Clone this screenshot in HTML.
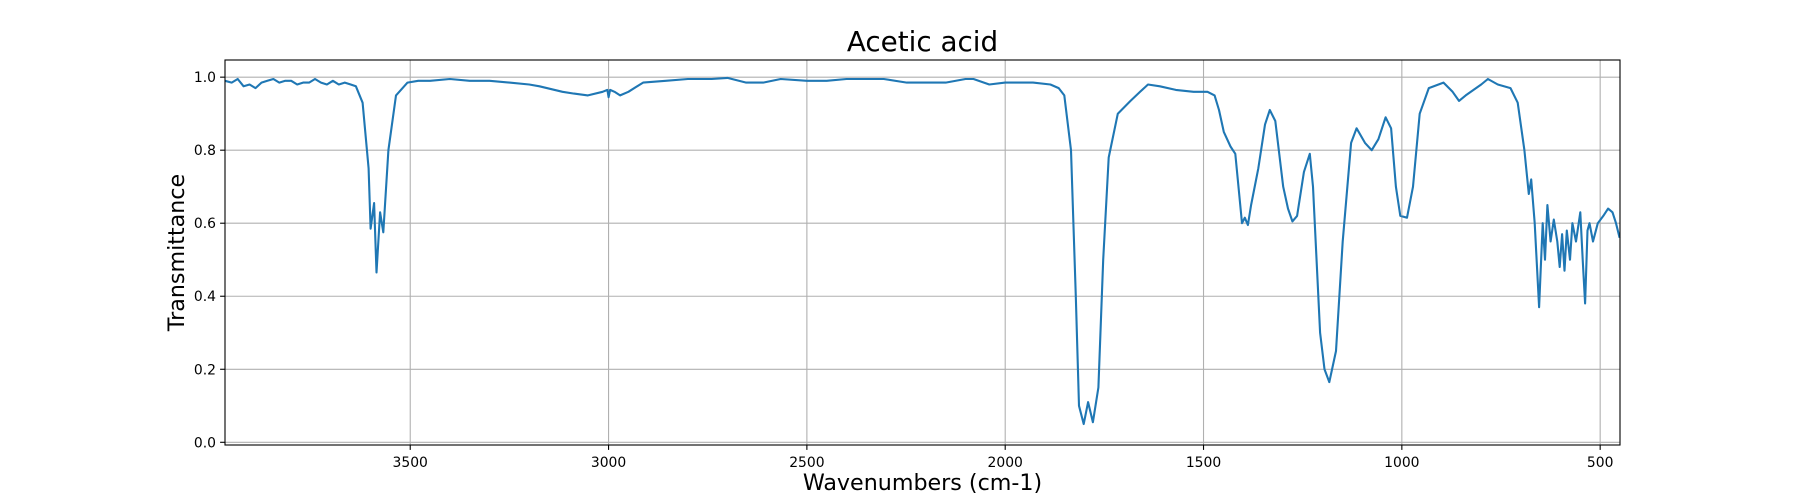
<!DOCTYPE html>
<html><head><meta charset="utf-8"><style>
body{margin:0;background:#fff;}
svg{display:block;font-family:"DejaVu Sans","Liberation Sans",sans-serif;}
</style></head><body>
<svg id="chart" width="1800" height="500" viewBox="0 0 1800 500" xmlns="http://www.w3.org/2000/svg">
<rect x="0" y="0" width="1800" height="500" fill="#fff"/>
<g id="grid"></g>
<g id="ticks"></g>
<path id="line" fill="none" stroke="#1f77b4" stroke-width="2.1" stroke-linejoin="round"/>
<rect x="225" y="60" width="1395" height="385" fill="none" stroke="#000" stroke-width="1.1"/>
<text x="922.5" y="51" text-anchor="middle" font-size="27.8">Acetic acid</text>
<text x="922.5" y="490" text-anchor="middle" font-size="22.2">Wavenumbers (cm-1)</text>
<text transform="translate(184,252.5) rotate(-90)" text-anchor="middle" font-size="22.2">Transmittance</text>
</svg>
<script>
const wavenumbers = [3967,3950,3935,3920,3905,3890,3875,3860,3845,3830,3815,3800,3785,3770,3755,3740,3725,3710,3695,3680,3665,3650,3637,3620,3605,3600,3591,3585,3576,3568,3555,3536,3507,3480,3450,3400,3350,3300,3250,3200,3174,3116,3087,3052,3015,3003,3000,2996,2985,2971,2950,2913,2856,2800,2740,2700,2653,2610,2566,2500,2450,2400,2350,2306,2248,2200,2150,2100,2080,2040,2000,1930,1886,1865,1851,1834,1822,1814,1802,1791,1779,1765,1753,1739,1716,1684,1660,1640,1610,1570,1525,1490,1472,1461,1449,1432,1420,1403,1396,1388,1380,1362,1345,1333,1319,1299,1287,1276,1264,1247,1232,1224,1206,1195,1183,1166,1149,1128,1114,1093,1076,1059,1041,1027,1015,1004,987,972,955,932,895,872,856,839,800,783,758,726,708,691,680,674,665,654,645,639,633,625,617,608,602,596,590,584,576,570,561,550,544,538,532,527,518,506,492,480,469,460,451];
const transmittance = [0.99,0.985,0.995,0.975,0.98,0.97,0.985,0.99,0.995,0.985,0.99,0.99,0.98,0.985,0.985,0.995,0.985,0.98,0.99,0.98,0.985,0.98,0.975,0.93,0.75,0.585,0.655,0.465,0.63,0.575,0.8,0.95,0.985,0.99,0.99,0.995,0.99,0.99,0.985,0.98,0.975,0.96,0.955,0.95,0.96,0.965,0.945,0.965,0.96,0.95,0.96,0.985,0.99,0.995,0.995,0.998,0.985,0.985,0.995,0.99,0.99,0.995,0.995,0.995,0.985,0.985,0.985,0.995,0.995,0.98,0.985,0.985,0.98,0.97,0.95,0.8,0.4,0.1,0.05,0.11,0.055,0.15,0.5,0.78,0.9,0.935,0.96,0.98,0.975,0.965,0.96,0.96,0.95,0.91,0.85,0.81,0.79,0.6,0.615,0.595,0.65,0.75,0.87,0.91,0.88,0.7,0.64,0.605,0.62,0.74,0.79,0.7,0.3,0.2,0.165,0.25,0.55,0.82,0.86,0.82,0.8,0.83,0.89,0.86,0.7,0.62,0.615,0.7,0.9,0.97,0.985,0.96,0.935,0.95,0.98,0.995,0.98,0.97,0.93,0.8,0.68,0.72,0.6,0.37,0.6,0.5,0.65,0.55,0.61,0.55,0.48,0.57,0.47,0.58,0.5,0.6,0.55,0.63,0.5,0.38,0.58,0.6,0.55,0.6,0.62,0.64,0.63,0.6,0.56];
const xTicks = [3500,3000,2500,2000,1500,1000,500];
const yTicks = [0.0,0.2,0.4,0.6,0.8,1.0];
const yTickLabels = ["0.0","0.2","0.4","0.6","0.8","1.0"];

const L=225,R=1620,T=60,B=445, X0=3967, X1=450, Y0=-0.0074, Y1=1.047;
const xs = v => L + (X0 - v) / (X0 - X1) * (R - L);
const ys = v => B - (v - Y0) / (Y1 - Y0) * (B - T);
const NS="http://www.w3.org/2000/svg";
const grid=document.getElementById('grid'), ticks=document.getElementById('ticks');
function mk(tag, attrs, parent){const e=document.createElementNS(NS,tag);for(const k in attrs)e.setAttribute(k,attrs[k]);parent.appendChild(e);return e;}
xTicks.forEach(v=>{
  const x=xs(v);
  const g=mk('line',{x1:x,x2:x,y1:T,y2:B,stroke:'#b0b0b0','stroke-width':1.1},grid);
  
  
  const t=mk('line',{x1:x,x2:x,y1:B,y2:B+4.9,stroke:'#000','stroke-width':1.1},ticks);
  
  
  const l=mk('text',{x:x,y:B+22,'text-anchor':'middle','font-size':13.9},ticks);
  l.textContent=String(v);
  
  
});
yTicks.forEach((v,i)=>{
  const y=ys(v);
  const g=mk('line',{x1:L,x2:R,y1:y,y2:y,stroke:'#b0b0b0','stroke-width':1.1},grid);
  
  
  const t=mk('line',{x1:L-4.9,x2:L,y1:y,y2:y,stroke:'#000','stroke-width':1.1},ticks);
  
  
  const l=mk('text',{x:L-9,y:y+5,'text-anchor':'end','font-size':13.9},ticks);
  l.textContent=yTickLabels[i];
  
  
});
let d='';
wavenumbers.forEach((w,i)=>{d+=(i?'L':'M')+xs(w).toFixed(1)+','+ys(transmittance[i]).toFixed(1);});
document.getElementById('line').setAttribute('d',d);
</script>
</body></html>
